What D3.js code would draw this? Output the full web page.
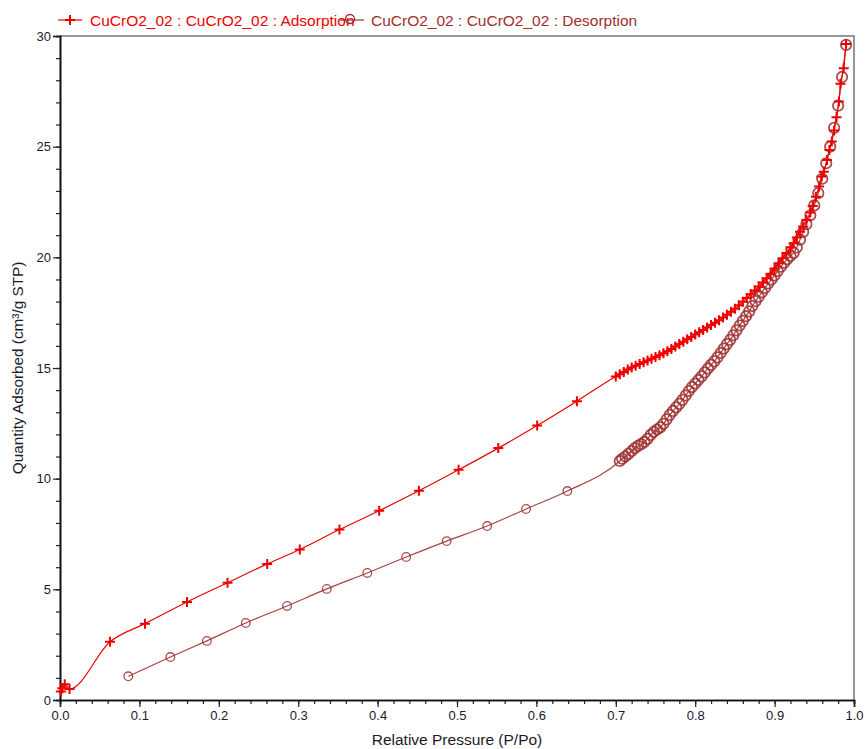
<!DOCTYPE html>
<html>
<head>
<meta charset="utf-8">
<script src="https://cdn.jsdelivr.net/npm/d3@7"></script>
<style>
  body { margin: 0; background: #fff; }
  svg { font-family: "Liberation Sans", Arial, sans-serif; }
</style>
</head>
<body>
<svg width="867" height="749"></svg>
<script>
const adsP = [0.001, 0.003, 0.006, 0.012, 0.063, 0.107, 0.160, 0.211, 0.261, 0.302, 0.352, 0.402, 0.452, 0.502, 0.552, 0.601, 0.651,
  0.700, 0.705, 0.710, 0.715, 0.720, 0.725, 0.730, 0.735, 0.740, 0.745, 0.750, 0.755, 0.760, 0.765, 0.770, 0.775,
  0.780, 0.785, 0.790, 0.795, 0.800, 0.805, 0.810, 0.815, 0.820, 0.825, 0.830, 0.835, 0.840, 0.845, 0.850, 0.855,
  0.860, 0.865, 0.870, 0.875, 0.880, 0.885, 0.890, 0.895, 0.900, 0.905, 0.910, 0.915, 0.920, 0.924, 0.928, 0.932,
  0.936, 0.940, 0.945, 0.948, 0.952, 0.956, 0.959, 0.962, 0.966, 0.969, 0.972, 0.975, 0.978, 0.981, 0.983, 0.987, 0.990];
const adsQ = [0.38, 0.53, 0.71, 0.50, 2.63, 3.45, 4.43, 5.30, 6.15, 6.80, 7.70, 8.55, 9.45, 10.40, 11.38, 12.40, 13.50,
  14.62, 14.72, 14.82, 14.93, 15.02, 15.10, 15.18, 15.26, 15.34, 15.42, 15.50, 15.58, 15.67, 15.76, 15.86, 15.97,
  16.08, 16.19, 16.30, 16.40, 16.51, 16.62, 16.72, 16.83, 16.94, 17.05, 17.16, 17.28, 17.41, 17.54, 17.68, 17.83,
  17.99, 18.16, 18.33, 18.50, 18.68, 18.86, 19.05, 19.26, 19.50, 19.73, 19.96, 20.20, 20.45, 20.64, 20.90, 21.16,
  21.39, 21.69, 22.02, 22.32, 22.74, 23.20, 23.65, 23.87, 24.40, 24.85, 25.23, 25.73, 26.33, 27.04, 27.84, 28.54, 29.64];

const desP = [0.086, 0.139, 0.185, 0.234, 0.286, 0.336, 0.387, 0.436, 0.487, 0.538, 0.587, 0.639,
  0.705, 0.708, 0.712, 0.716, 0.720, 0.724, 0.728, 0.732, 0.736, 0.740, 0.744, 0.748, 0.752, 0.756, 0.760, 0.764,
  0.768, 0.772, 0.776, 0.780, 0.784, 0.788, 0.792, 0.796, 0.800, 0.804, 0.808, 0.812, 0.816, 0.820, 0.824, 0.828,
  0.832, 0.836, 0.840, 0.844, 0.848, 0.852, 0.856, 0.860, 0.864, 0.868, 0.872, 0.876, 0.880, 0.884, 0.888, 0.892,
  0.896, 0.900, 0.904, 0.908, 0.912, 0.916, 0.920, 0.924, 0.928, 0.932, 0.936, 0.940, 0.945, 0.950, 0.955, 0.960,
  0.965, 0.970, 0.975, 0.980, 0.985, 0.990];
const desQ = [1.07, 1.94, 2.67, 3.48, 4.25, 5.02, 5.74, 6.46, 7.18, 7.86, 8.63, 9.44,
  10.80, 10.90, 11.00, 11.12, 11.25, 11.38, 11.48, 11.56, 11.66, 11.80, 11.98, 12.12, 12.22, 12.32, 12.48, 12.68,
  12.88, 13.06, 13.22, 13.38, 13.56, 13.76, 13.96, 14.14, 14.30, 14.46, 14.62, 14.80, 14.98, 15.14, 15.30, 15.48,
  15.68, 15.88, 16.08, 16.27, 16.48, 16.70, 16.92, 17.13, 17.34, 17.56, 17.80, 18.02, 18.22, 18.42, 18.62, 18.82,
  19.00, 19.18, 19.38, 19.58, 19.76, 19.92, 20.06, 20.20, 20.45, 20.80, 21.15, 21.50, 21.90, 22.35, 22.90, 23.55,
  24.25, 25.00, 25.85, 26.85, 28.15, 29.60];

const xTicks = [0.0, 0.1, 0.2, 0.3, 0.4, 0.5, 0.6, 0.7, 0.8, 0.9, 1.0];
const yTicks = [0, 5, 10, 15, 20, 25, 30];
const seriesNames = ["CuCrO2_02 : CuCrO2_02 : Adsorption", "CuCrO2_02 : CuCrO2_02 : Desorption"];

const adsColor = "#ee0000";
const desColor = "#9e2f2f";

const svg = d3.select("svg");
const m = { left: 60, right: 13, top: 36, bottom: 49 };
const W = 867, H = 749;

const x = d3.scaleLinear().domain([0, 1]).range([m.left, W - m.right]);
const y = d3.scaleLinear().domain([0, 30]).range([H - m.bottom, m.top]);

// frame (top and right are grey)
svg.append("path")
  .attr("d", `M${x(0)},${y(30)}H${x(1)}V${y(0)}`)
  .attr("fill", "none").attr("stroke", "#777").attr("stroke-width", 1.5);

// minor ticks
svg.append("g").attr("transform", `translate(0,${y(0)})`)
  .call(d3.axisBottom(x).tickValues(d3.range(0, 1.001, 0.02)).tickSize(4).tickFormat(""));
svg.append("g").attr("transform", `translate(${x(0)},0)`)
  .call(d3.axisLeft(y).tickValues(d3.range(0, 31, 1)).tickSize(4).tickFormat(""));

// major ticks with labels
svg.append("g").attr("transform", `translate(0,${y(0)})`)
  .call(d3.axisBottom(x).tickValues(xTicks).tickSize(7).tickPadding(4).tickFormat(d3.format(".1f")));
svg.append("g").attr("transform", `translate(${x(0)},0)`)
  .call(d3.axisLeft(y).tickValues(yTicks).tickSize(7).tickPadding(2).tickFormat(d3.format("d")));

svg.selectAll(".domain").attr("stroke", "#111").attr("stroke-width", 1.6);
svg.selectAll(".tick line").attr("stroke", "#222").attr("stroke-width", 1.2);
svg.selectAll(".tick text").attr("fill", "#1a1a2a").style("font-size", "13px")
  .style("font-family", "'Liberation Sans', Arial, sans-serif");

// axis titles
svg.append("text")
  .attr("x", x(0.5)).attr("y", 745)
  .attr("text-anchor", "middle").style("font-size", "15.5px").attr("fill", "#1a1a2a")
  .text("Relative Pressure (P/Po)");
svg.append("text")
  .attr("transform", `translate(23,${y(15)}) rotate(-90)`)
  .attr("text-anchor", "middle").style("font-size", "15.3px").attr("fill", "#1a1a2a")
  .text("Quantity Adsorbed (cm³/g STP)");

const plot = svg.append("g");

const line = d3.line().x(d => x(d[0])).y(d => y(d[1])).curve(d3.curveMonotoneX);

const ads = adsP.map((p, i) => [p, adsQ[i]]);
const des = desP.map((p, i) => [p, desQ[i]]);

// desorption
plot.append("path").datum(des).attr("d", line)
  .attr("fill", "none").attr("stroke", desColor).attr("stroke-width", 1.2).attr("opacity", 0.9);
plot.selectAll("circle.des").data(des).enter().append("circle")
  .attr("class", "des")
  .attr("cx", d => x(d[0])).attr("cy", d => y(d[1])).attr("r", d => d[0] > 0.7 ? 5.2 : 4.3)
  .attr("fill", "none").attr("stroke", desColor)
  .attr("stroke-width", d => d[0] > 0.7 ? 1.8 : 1.3).attr("opacity", 0.85);

// adsorption
plot.append("path").datum(ads).attr("d", line)
  .attr("fill", "none").attr("stroke", adsColor).attr("stroke-width", 1.2);
plot.selectAll("path.ads").data(ads).enter().append("path")
  .attr("class", "ads")
  .attr("transform", d => `translate(${x(d[0])},${y(d[1])})`)
  .attr("d", "M-5,0H5M0,-5V5")
  .attr("stroke", adsColor).attr("stroke-width", 2);

// legend
const lg = svg.append("g").style("font-size", "15.5px");
lg.append("path").attr("d", "M58,20H82").attr("stroke", adsColor).attr("stroke-width", 1.2);
lg.append("path").attr("d", "M65,20H75M70,15V25").attr("stroke", adsColor).attr("stroke-width", 2);
lg.append("text").attr("x", 90).attr("y", 26).attr("fill", adsColor).text(seriesNames[0]);
lg.append("path").attr("d", "M340,20H364").attr("stroke", desColor).attr("stroke-width", 1.2);
lg.append("circle").attr("cx", 350).attr("cy", 19).attr("r", 4.5)
  .attr("fill", "none").attr("stroke", desColor).attr("stroke-width", 1.3);
lg.append("text").attr("x", 371).attr("y", 26).attr("fill", desColor).text(seriesNames[1]);
</script>
</body>
</html>
